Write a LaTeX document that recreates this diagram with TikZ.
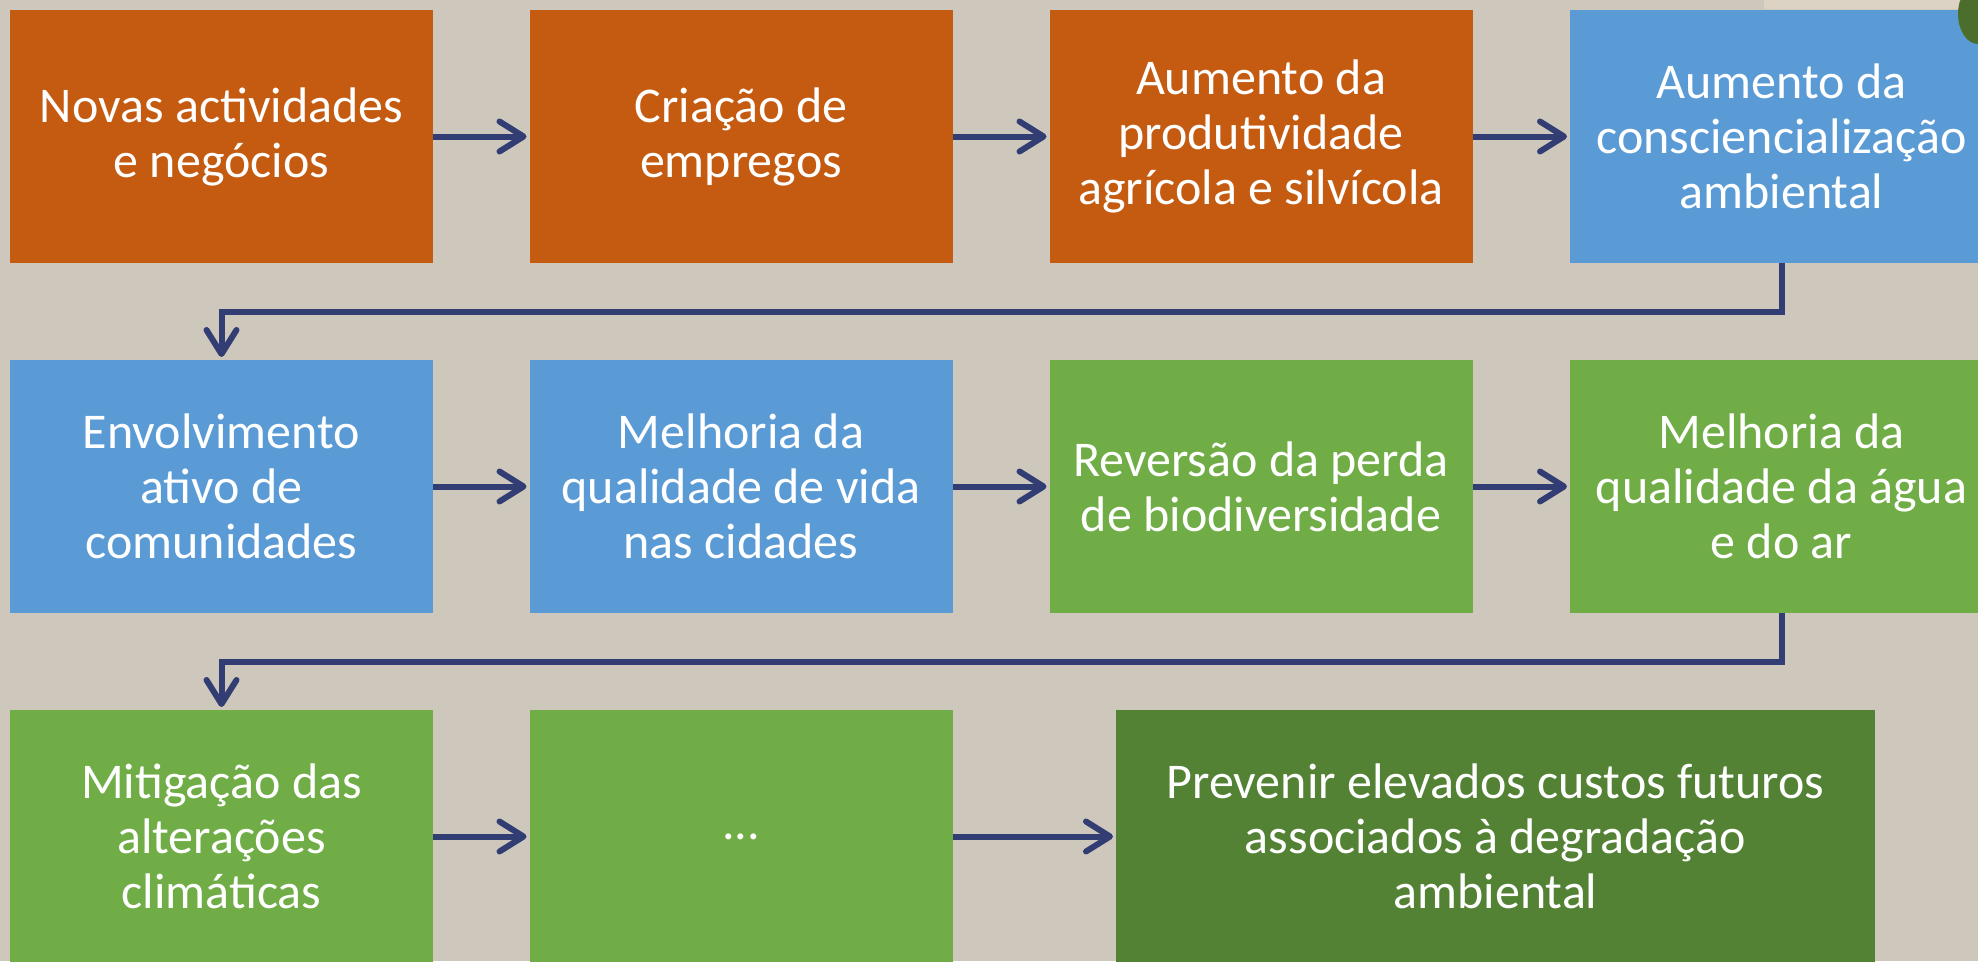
\documentclass[tikz,border=0pt]{standalone}
\usepackage{fontspec}
\setmainfont{Carlito}
\usetikzlibrary{arrows.meta}
\definecolor{bgc}{HTML}{CEC8BC}
\definecolor{orangec}{HTML}{C55A11}
\definecolor{bluec}{HTML}{5B9BD5}
\definecolor{greenc}{HTML}{70AD47}
\definecolor{dgreenc}{HTML}{548235}
\definecolor{navyc}{HTML}{323D73}
\definecolor{stripc}{HTML}{DDD3C4}
\definecolor{blobc}{HTML}{4C6E2C}
\tikzset{
  box/.style={minimum width=423pt, minimum height=253pt, inner sep=0pt, outer sep=0pt,
    text=white, align=center, font=\fontsize{50}{55}\selectfont},
  obox/.style={box, fill=orangec},
  bbox/.style={box, fill=bluec},
  gbox/.style={box, fill=greenc},
  dbox/.style={box, fill=dgreenc, minimum width=759pt},
  conn/.style={draw=navyc, line width=6pt,
    -{Straight Barb[length=24pt,width=30pt,line cap=round,line join=round]}},
}
\begin{document}
\begin{tikzpicture}[x=1pt,y=-1pt]
\useasboundingbox (0,0) rectangle (1978,961);
\clip (0,0) rectangle (1978,961);
\fill[bgc] (0,0) rectangle (1978,961);
% row 1
\node[obox] (b1) at (221.5,136.5) {Novas actividades\\e negócios};
\node[obox] (b2) at (741,136.5) {Criação de\\empregos};
\node[obox] (b3) at (1261,136.5) {Aumento da\\produtividade\\agrícola e silvícola};
\node[bbox] (b4) at (1781.5,136.5) {Aumento da\\consciencialização\\ambiental};
% row 2
\node[bbox] (b5) at (221.5,486.5) {Envolvimento\\ativo de\\comunidades};
\node[bbox] (b6) at (741,486.5) {Melhoria da\\qualidade de vida\\nas cidades};
\node[gbox] (b7) at (1261,486.5) {Reversão da perda\\de biodiversidade};
\node[gbox] (b8) at (1781.5,486.5) {Melhoria da\\qualidade da água\\e do ar};
% row 3
\node[gbox] (b9) at (221.5,836.5) {Mitigação das\\alterações\\climáticas};
\node[gbox] (b10) at (741,836.5) {...};
\node[dbox] (b11) at (1495.5,836.5) {Prevenir elevados custos futuros\\associados à degradação\\ambiental};
% top-right artefact
\fill[stripc] (1764,0) rectangle (1978,9);
\fill[blobc] (1978,14) ellipse [x radius=20pt, y radius=30pt];
% connectors
\coordinate (m1) at (221.5,311.5);
\coordinate (m2) at (221.5,661.5);
\draw[conn, shorten >=3pt] (b1) -- (b2);
\draw[conn, shorten >=3pt] (b2) -- (b3);
\draw[conn, shorten >=3pt] (b3) -- (b4);
\draw[conn, shorten >=3pt] (b5) -- (b6);
\draw[conn, shorten >=3pt] (b6) -- (b7);
\draw[conn, shorten >=3pt] (b7) -- (b8);
\draw[conn, shorten >=3pt] (b9) -- (b10);
\draw[conn, shorten >=3pt] (b10) -- (b11);
\draw[conn, shorten >=3pt] (b4.south) |- (m1) -- (b5.north);
\draw[conn, shorten >=3pt] (b8.south) |- (m2) -- (b9.north);
\end{tikzpicture}
\end{document}
